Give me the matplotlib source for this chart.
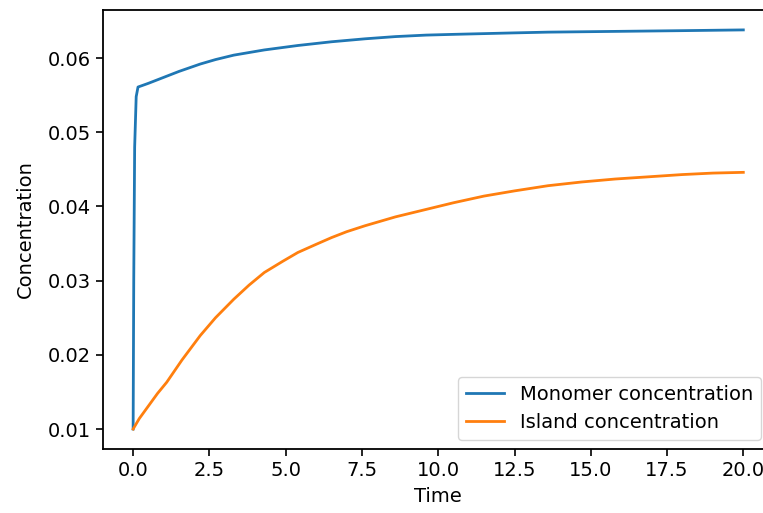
import numpy as np
import matplotlib
matplotlib.use("Agg")
import matplotlib.pyplot as plt

# values
time_mono = [0.0, 0.02, 0.05, 0.1, 0.16, 0.5, 1.0, 1.5, 2.2, 2.7, 3.3, 4.3, 5.4, 6.5, 7.6,
             8.6, 9.6, 10.5, 11.5, 12.5, 13.6, 14.7, 15.8, 16.9, 18.0, 19.0, 20.0]
monomer = [0.0100, 0.0300, 0.0480, 0.0548, 0.0561, 0.0566, 0.0574, 0.0582, 0.0592, 0.0598,
           0.0604, 0.0611, 0.0617, 0.0622, 0.0626, 0.0629, 0.0631, 0.0632, 0.0633, 0.0634,
           0.0635, 0.06355, 0.0636, 0.06365, 0.0637, 0.06375, 0.0638]

time_island = [0.0, 0.2, 0.5, 0.8, 1.1, 1.6, 2.2, 2.7, 3.3, 3.8, 4.3, 4.9, 5.4, 6.0, 6.5,
               7.0, 7.6, 8.6, 9.6, 10.5, 11.5, 12.5, 13.6, 14.7, 15.8, 16.9, 18.0, 19.0, 20.0]
island = [0.0100, 0.0114, 0.0131, 0.0148, 0.0163, 0.0193, 0.0226, 0.0250, 0.0275, 0.0294,
          0.0311, 0.0326, 0.0338, 0.0349, 0.0358, 0.0366, 0.0374, 0.0386, 0.0396, 0.0405,
          0.0414, 0.0421, 0.0428, 0.0433, 0.0437, 0.0440, 0.0443, 0.0445, 0.0446]

fs = 14
fig = plt.figure(figsize=(7.63, 5.13), dpi=100)
ax = fig.add_axes([0.1345, 0.1248, 0.8797, 0.8558])

ax.plot(time_mono, monomer, color="#1f77b4", lw=2.0, label="Monomer concentration")
ax.plot(time_island, island, color="#ff7f0e", lw=2.0, label="Island concentration")

ax.set_xticks(np.arange(0, 20.1, 2.5))
ax.set_yticks([0.01, 0.02, 0.03, 0.04, 0.05, 0.06])
ax.tick_params(labelsize=fs, width=1.2, length=5)
for s in ax.spines.values():
    s.set_linewidth(1.3)
ax.spines["right"].set_visible(False)
ax.set_xlabel("Time", fontsize=fs, labelpad=5)
ax.set_ylabel("Concentration", fontsize=fs, labelpad=9)
ax.legend(loc="lower right", fontsize=fs, borderaxespad=0,
          bbox_to_anchor=(761 / 763, 73 / 513), bbox_transform=fig.transFigure)

fig.savefig("out.png", dpi=100)
